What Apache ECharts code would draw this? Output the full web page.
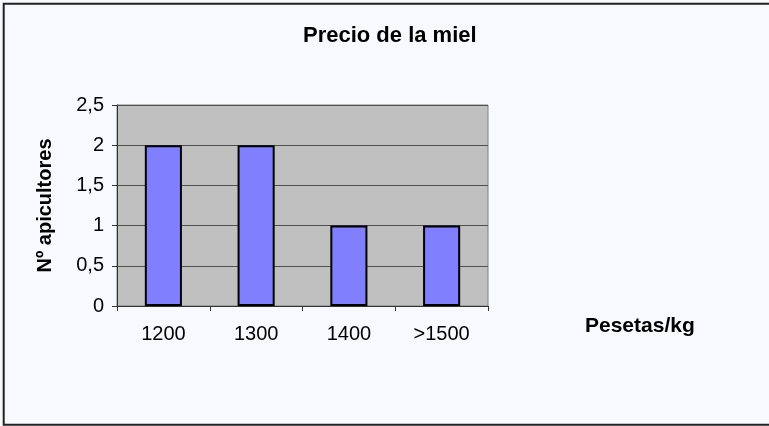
<!DOCTYPE html>
<html>
<head>
<meta charset="utf-8">
<script src="https://cdn.jsdelivr.net/npm/echarts@6/dist/echarts.min.js"></script>
<style>
  html, body { margin: 0; padding: 0; background: #f8f9fe; }
  #chart { width: 769px; height: 426px; }
</style>
</head>
<body>
<div id="chart"></div>
<script>
// datos
const categorias = ["1200", "1300", "1400", ">1500"];
const apicultores = [2, 2, 1, 1];
const ticksY = [0, 0.5, 1, 1.5, 2, 2.5];

const chart = echarts.init(document.getElementById("chart"));

const option = {
  backgroundColor: "#f8f9fe",
  animation: false,
  textStyle: { fontFamily: "Liberation Sans, Arial, sans-serif" },
  title: {
    text: "Precio de la miel",
    left: 298,
    top: 20,
    textStyle: { fontSize: 22, fontWeight: "bold", color: "#000" }
  },
  grid: {
    left: 117,
    right: 281,
    top: 105,
    bottom: 120,
    show: true,
    backgroundColor: "#c0c0c0",
    borderColor: "#808080",
    borderWidth: 1
  },
  xAxis: {
    type: "category",
    data: categorias,
    name: "Pesetas/kg",
    nameLocation: "end",
    nameGap: 97,
    nameTextStyle: {
      fontSize: 21, fontWeight: "bold", color: "#000",
      verticalAlign: "top",
      padding: [10, 0, 0, 0]
    },
    axisLine: { lineStyle: { color: "#333", width: 1 } },
    axisTick: { show: true, inside: false, length: 5, alignWithLabel: false, lineStyle: { color: "#333" } },
    axisLabel: { fontSize: 20, color: "#000", margin: 18 }
  },
  yAxis: {
    type: "value",
    min: ticksY[0],
    max: ticksY[ticksY.length - 1],
    interval: 0.5,
    name: "Nº apicultores",
    nameLocation: "middle",
    nameGap: 62,
    nameTextStyle: { fontSize: 20, fontWeight: "bold", color: "#000" },
    axisLine: { show: true, lineStyle: { color: "#333", width: 1 } },
    axisTick: { show: true, length: 5, lineStyle: { color: "#333" } },
    axisLabel: {
      fontSize: 20, color: "#000", margin: 13,
      formatter: function (v) { return String(v).replace(".", ","); }
    },
    splitLine: { show: true, lineStyle: { color: "#505050", width: 1 } }
  },
  series: [
    {
      type: "bar",
      data: apicultores,
      barWidth: "40%",
      itemStyle: { color: "#8080ff", borderColor: "#000", borderWidth: 2 }
    }
  ],
  graphic: [
    {
      type: "rect",
      shape: { x: 3.7, y: 3.7, width: 800, height: 421 },
      style: { fill: "none", stroke: "#222", lineWidth: 2 },
      silent: true
    }
  ]
};

chart.setOption(option);
</script>
</body>
</html>
